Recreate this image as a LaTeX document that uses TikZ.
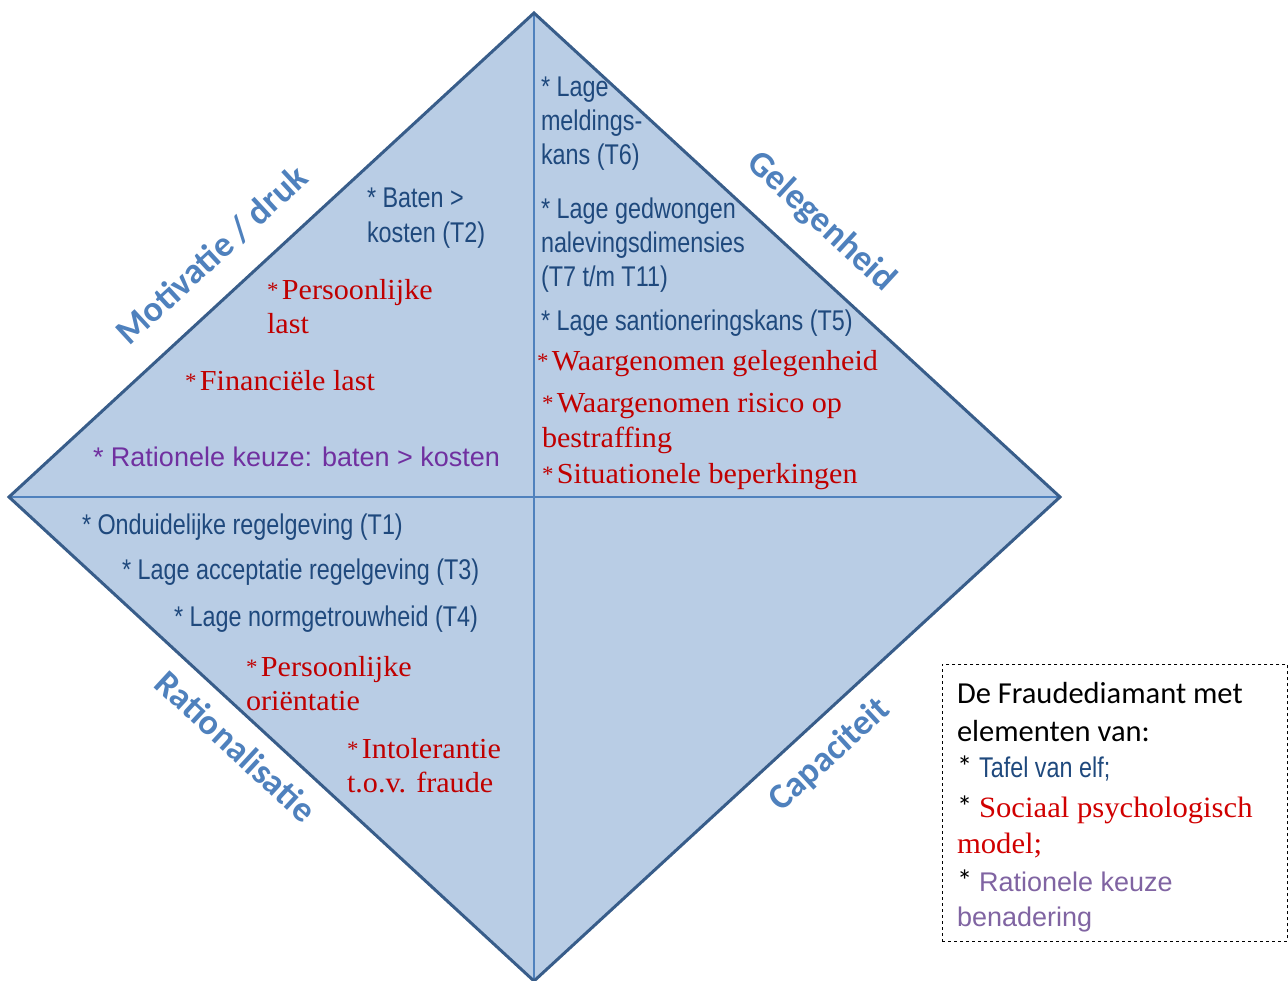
\documentclass[tikz,border=0pt]{standalone}
\usepackage{fontspec}
\setmainfont{Liberation Sans}
\newfontfamily\narrowf[FakeStretch=0.82]{Liberation Sans}
\newfontfamily\serifr[FakeStretch=1.04]{Liberation Serif}
\newfontfamily\calf{Carlito}
\definecolor{dfill}{HTML}{B9CDE5}
\definecolor{dedge}{HTML}{385D8A}
\definecolor{dline}{HTML}{4F81BD}
\definecolor{tblue}{HTML}{1F497D}
\definecolor{tred}{HTML}{C00000}
\definecolor{tpurple}{HTML}{7030A0}
\definecolor{bred}{HTML}{D00000}
\definecolor{bpurple}{HTML}{8064A2}
\definecolor{lblue}{HTML}{4F81BD}
\newcommand{\rast}{{\fontsize{22}{22}\selectfont\raisebox{2pt}{*}}\hspace{0.12em}}
\tikzset{
  txt/.style={anchor=base west, inner sep=0pt, outer sep=0pt},
  tafel/.style={txt, text=tblue, font=\narrowf\fontsize{28.5}{34}\selectfont},
  sociaal/.style={txt, text=tred, font=\serifr\fontsize{29}{34}\selectfont},
  ratio/.style={txt, text=tpurple, font=\rmfamily\fontsize{27}{34}\selectfont},
  side/.style={inner sep=0pt, text=lblue, font=\calf\bfseries\fontsize{36}{40}\selectfont},
  boxt/.style={txt, font=\calf\fontsize{30.5}{36}\selectfont},
}
\begin{document}
\begin{tikzpicture}[x=1pt,y=-1pt]
\useasboundingbox (0,0) rectangle (1288,981);
\coordinate (T) at (534,13);
\coordinate (R) at (1060,497);
\coordinate (B) at (534,981);
\coordinate (L) at (9,497);
\fill[dfill] (T) -- (R) -- (B) -- (L) -- cycle;
\draw[dline, line width=1.4pt] (L) -- (R);
\draw[dline, line width=1.4pt] (T) -- (B);
\draw[dedge, line width=3pt, line join=miter] (T) -- (R) -- (B) -- (L) -- cycle;

% side labels
\node[side, rotate=42.67] (motiv) at (212,255) {Motivatie / druk};
\node[side, rotate=-42.67] (geleg) at (821,222) {Gelegenheid};
\node[side, rotate=-42.67] (ration) at (236,746) {Rationalisatie};
\node[side, rotate=42.67] (capac) at (830,755) {Capaciteit};

% top-left quadrant
\node[tafel] (t2a) at (367,208) {* Baten >};
\node[tafel] (t2b) at (367,243) {kosten (T2)};
\node[sociaal] (pla) at (267,300) {\rast Persoonlijke};
\node[sociaal] (plb) at (267,334) {last};
\node[sociaal] (fin) at (185,391) {\rast Financiële last};
\node[ratio] (rk) at (93,466) {* Rationele keuze: baten > kosten};

% top-right quadrant
\node[tafel] (t6a) at (541,97) {* Lage};
\node[tafel] (t6b) at (541,131) {meldings-};
\node[tafel] (t6c) at (541,165) {kans (T6)};
\node[tafel] (t7a) at (541,219) {* Lage gedwongen};
\node[tafel] (t7b) at (541,253) {nalevingsdimensies};
\node[tafel] (t7c) at (541,287) {(T7 t/m T11)};
\node[tafel] (t5) at (541,331) {* Lage santioneringskans (T5)};
\node[sociaal] (wg) at (537,371) {\rast Waargenomen gelegenheid};
\node[sociaal] (wra) at (542,413) {\rast Waargenomen risico op};
\node[sociaal] (wrb) at (542,447) {bestraffing};
\node[sociaal] (sb) at (542,483) {\rast Situationele beperkingen};

% bottom-left quadrant
\node[tafel] (t1) at (82,534) {* Onduidelijke regelgeving (T1)};
\node[tafel] (t3) at (122,579) {* Lage acceptatie regelgeving (T3)};
\node[tafel] (t4) at (174,626) {* Lage normgetrouwheid (T4)};
\node[sociaal] (poa) at (246,676) {\rast Persoonlijke};
\node[sociaal] (pob) at (246,710) {oriëntatie};
\node[sociaal] (inta) at (347,758) {\rast Intolerantie};
\node[sociaal] (intb) at (347,792) {t.o.v. fraude};

% legend box
\node[draw=black, dashed, line width=0.8pt, minimum width=345pt, minimum height=277pt, anchor=north west, inner sep=0pt] (legend) at (942,664) {};
\node[boxt] (l1) at (957,703) {De Fraudediamant met};
\node[boxt] (l2) at (957,741) {elementen van:};
\node[boxt] (l3) at (957,777) {* {\narrowf\fontsize{28.5}{34}\selectfont\color{tblue}Tafel van elf;}};
\node[boxt] (l4) at (957,817) {* {\serifr\fontsize{29.5}{34}\selectfont\color{bred}Sociaal psychologisch}};
\node[boxt, text=bred, font=\serifr\fontsize{29.5}{34}\selectfont] (l5) at (957,853) {model;};
\node[boxt] (l6) at (957,891) {* {\rmfamily\fontsize{27}{34}\selectfont\color{bpurple}Rationele keuze}};
\node[boxt, text=bpurple, font=\rmfamily\fontsize{27}{34}\selectfont] (l7) at (957,926) {benadering};
\end{tikzpicture}
\end{document}
